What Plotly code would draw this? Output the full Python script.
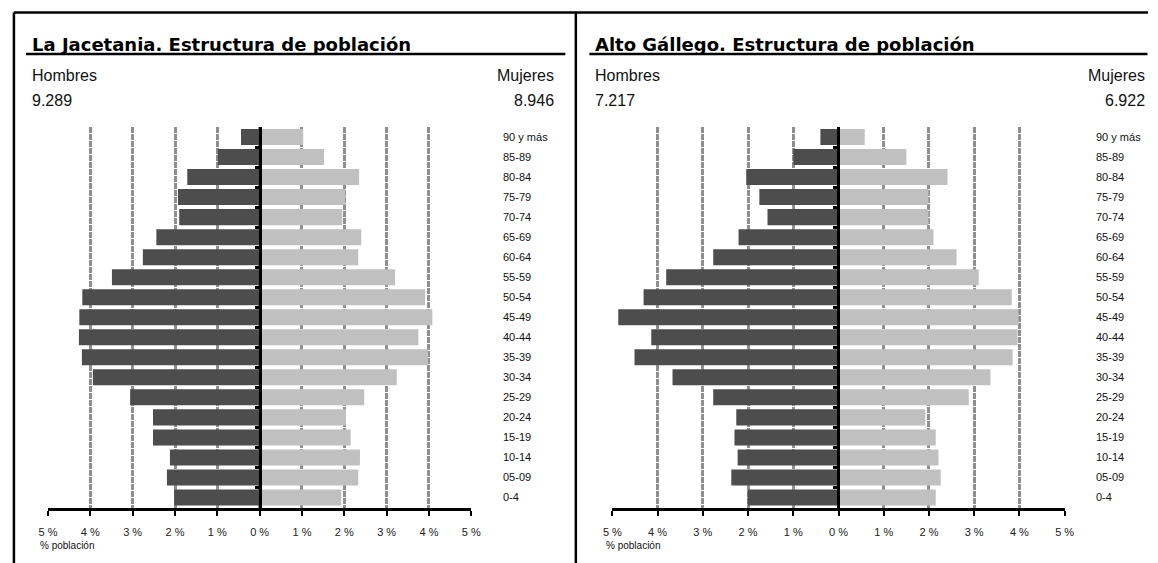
import plotly.graph_objects as go

# ---------------- data ----------------
categories = ["0-4", "05-09", "10-14", "15-19", "20-24", "25-29", "30-34", "35-39",
              "40-44", "45-49", "50-54", "55-59", "60-64", "65-69", "70-74", "75-79",
              "80-84", "85-89", "90 y más"]

# La Jacetania (% población), bottom (0-4) to top (90 y más)
jac_hombres = [2.02, 2.19, 2.12, 2.52, 2.52, 3.06, 3.94, 4.20, 4.27, 4.26,
               4.19, 3.49, 2.76, 2.44, 1.90, 1.93, 1.71, 0.99, 0.44]
jac_mujeres = [1.93, 2.33, 2.37, 2.15, 2.04, 2.47, 3.24, 3.98, 3.75, 4.08,
               3.91, 3.20, 2.33, 2.40, 1.95, 2.02, 2.35, 1.52, 1.03]

# Alto Gállego (% población)
alt_hombres = [2.01, 2.37, 2.23, 2.30, 2.26, 2.77, 3.67, 4.51, 4.14, 4.87,
               4.31, 3.81, 2.77, 2.21, 1.57, 1.75, 2.04, 1.00, 0.40]
alt_mujeres = [2.15, 2.26, 2.21, 2.15, 1.92, 2.88, 3.36, 3.85, 3.96, 3.98,
               3.83, 3.10, 2.61, 2.10, 1.99, 1.99, 2.41, 1.50, 0.58]

tick_vals = [-5, -4, -3, -2, -1, 0, 1, 2, 3, 4, 5]
tick_text = ["5 %", "4 %", "3 %", "2 %", "1 %", "0 %", "1 %", "2 %", "3 %", "4 %", "5 %"]

titles = ["La Jacetania. Estructura de población", "Alto Gállego. Estructura de población"]
totals_h = ["9.289", "7.217"]
totals_m = ["8.946", "6.922"]

# ---------------- layout helpers ----------------
W, H = 1158, 563
# horizontal calibration of the photographed page (measured)
SX, OX = 0.983, 9.0
def fx(px):
    css = (px - OX) / SX
    css = min(max(css, 5.0), W - 0.5)
    return css / W
def fy(py):
    return 1 - py / H

FONT = "Liberation Sans, Arial, sans-serif"
TITLE_FONT = "DejaVu Sans, Liberation Sans, sans-serif"
MEN_COLOR = "#4d4d4d"
WOMEN_COLOR = "#c0c0c0"

fig = go.Figure()

panels = [
    dict(h=jac_hombres, m=jac_mujeres, xa="x", ya="y", x0=48, x1=471, zero=259.5,
         lab=501, left=32, right=554, ul0=26, ul1=565, pob=38),
    dict(h=alt_hombres, m=alt_mujeres, xa="x2", ya="y2", x0=612, x1=1064, zero=838,
         lab=1093, left=595, right=1144, ul0=589, ul1=1153, pob=604),
]

y_top, y_bot = 127, 507.5

annotations = []
shapes = []

for i, p in enumerate(panels):
    fig.add_trace(go.Bar(
        y=categories, x=[-v for v in p["h"]], orientation="h",
        marker=dict(color=MEN_COLOR, line=dict(width=0)),
        xaxis=p["xa"], yaxis=p["ya"], name="Hombres", showlegend=False,
        hoverinfo="skip"))
    fig.add_trace(go.Bar(
        y=categories, x=p["m"], orientation="h",
        marker=dict(color=WOMEN_COLOR, line=dict(width=0)),
        xaxis=p["xa"], yaxis=p["ya"], name="Mujeres", showlegend=False,
        hoverinfo="skip"))

    sfx = "" if i == 0 else "2"
    fig.update_layout(**{
        "xaxis" + sfx: dict(
            domain=[fx(p["x0"]), fx(p["x1"])], range=[-5, 5],
            tickmode="array", tickvals=tick_vals, ticktext=tick_text,
            showgrid=True, gridcolor="#8f8f8f", gridwidth=2.5, griddash="6px,1px",
            zeroline=False, showline=True, linecolor="black", linewidth=3,
            ticks="outside", ticklen=5, tickwidth=2, tickcolor="black",
            tickfont=dict(size=11, color="#222", family=FONT),
            ticklabelstandoff=7,
            anchor="y" + sfx, fixedrange=True),
        "yaxis" + sfx: dict(
            domain=[fy(y_bot), fy(y_top)], type="category",
            categoryorder="array", categoryarray=categories,
            range=[-0.5, len(categories) - 0.5],
            anchor="free", position=fx(p["zero"]), side="right",
            showline=True, linecolor="black", linewidth=3,
            ticks="inside", ticklen=4, tickwidth=3, tickcolor="black",
            tickson="boundaries", showticklabels=False, showgrid=False,
            zeroline=False, layer="above traces", fixedrange=True),
    })

    for c in categories:
        annotations.append(dict(
            x=fx(p["lab"]), xref="paper", y=c, yref=p["ya"],
            text=c, showarrow=False, xanchor="left", yanchor="middle",
            font=dict(size=11, color="#111", family=FONT)))

    annotations.append(dict(x=fx(p["left"] - 2), y=fy(45), xref="paper", yref="paper",
                            text="<b>" + titles[i] + "</b>", showarrow=False,
                            xanchor="left", yanchor="middle",
                            font=dict(size=18, color="black", family=TITLE_FONT)))
    annotations.append(dict(x=fx(p["left"] - 2), y=fy(76), xref="paper", yref="paper",
                            text="Hombres", showarrow=False, xanchor="left", yanchor="middle",
                            font=dict(size=16, color="#111", family=FONT)))
    annotations.append(dict(x=fx(p["left"] - 2), y=fy(100), xref="paper", yref="paper",
                            text=totals_h[i], showarrow=False, xanchor="left", yanchor="middle",
                            font=dict(size=16, color="#111", family=FONT)))
    annotations.append(dict(x=fx(p["right"] + 2), y=fy(76), xref="paper", yref="paper",
                            text="Mujeres", showarrow=False, xanchor="right", yanchor="middle",
                            font=dict(size=16, color="#111", family=FONT)))
    annotations.append(dict(x=fx(p["right"] + 2), y=fy(100), xref="paper", yref="paper",
                            text=totals_m[i], showarrow=False, xanchor="right", yanchor="middle",
                            font=dict(size=16, color="#111", family=FONT)))
    annotations.append(dict(x=fx(p["pob"]), y=fy(545), xref="paper", yref="paper",
                            text="% población", showarrow=False, xanchor="left", yanchor="middle",
                            font=dict(size=10, color="#111", family=FONT)))

    shapes.append(dict(type="line", xref="paper", yref="paper",
                       x0=fx(p["ul0"]), x1=fx(p["ul1"]), y0=fy(54), y1=fy(54),
                       line=dict(color="black", width=2.5)))

# frame lines
shapes.append(dict(type="line", xref="paper", yref="paper", x0=fx(7), x1=1,
                   y0=fy(12.5), y1=fy(12.5), line=dict(color="black", width=2.5)))
shapes.append(dict(type="line", xref="paper", yref="paper", x0=fx(7), x1=fx(7),
                   y0=fy(12.5), y1=0, line=dict(color="black", width=2.5)))
shapes.append(dict(type="line", xref="paper", yref="paper", x0=fx(575.5), x1=fx(575.5),
                   y0=fy(12.5), y1=0, line=dict(color="black", width=2.5)))

fig.update_layout(
    width=W, height=H,
    margin=dict(l=0, r=0, t=0, b=0),
    paper_bgcolor="white", plot_bgcolor="white",
    barmode="relative", bargap=0.2,
    showlegend=False,
    font=dict(family=FONT, color="#111"),
    annotations=annotations, shapes=shapes,
)

fig.write_html(
    "out.html",
    config={"displayModeBar": False, "responsive": False},
    post_script="document.body.style.margin='0';document.body.style.padding='0';"
                "document.body.style.overflow='hidden';",
)
